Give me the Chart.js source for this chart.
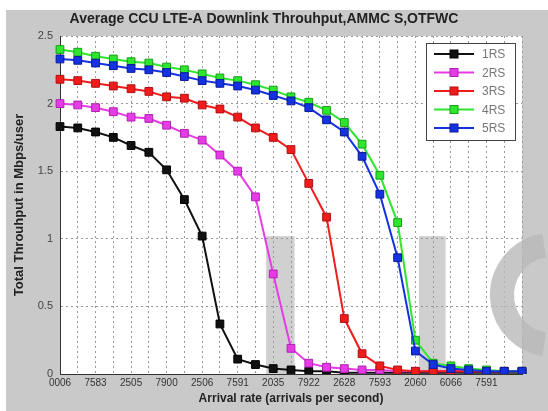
<!DOCTYPE html>
<html>
<head>
<meta charset="utf-8">
<script src="https://cdn.jsdelivr.net/npm/chart.js@4.4.1/dist/chart.umd.min.js"></script>
<style>
  html, body { margin: 0; padding: 0; background: #fff; }
  #wrap { position: relative; width: 548px; height: 411px; }
</style>
</head>
<body>
<div id="wrap"><canvas id="chart" width="548" height="411"></canvas></div>
<script>
// DATOS

// 27 puntos de carga (índice de tasa de llegada)
const arrivalPoints = ['1','2','3','4','5','6','7','8','9','10','11','12','13','14','15','16','17','18','19','20','21','22','23','24','25','26','27'];

// etiquetas del eje x (una cada dos puntos, tal como salen en la figura)
const xTickLabels = ['0006','7583','2505','7900','2506','7591','2035','7922','2628','7593','2060','6066','7591',''];

const yTickValues = [0, 0.5, 1, 1.5, 2, 2.5];
const yTickLabels = ['0', '0.5', '1', '1.5', '2', '2.5'];

const seriesNames = ['1RS', '2RS', '3RS', '4RS', '5RS'];

const rs1 = [1.83, 1.82, 1.79, 1.75, 1.69, 1.64, 1.51, 1.29, 1.02, 0.37, 0.11, 0.07, 0.04, 0.03, 0.02, 0.02, 0.01, 0.01, 0.01, 0.01, 0.01, 0.01, 0.01, 0.01, 0.01, 0.01, 0.01];
const rs2 = [2.00, 1.99, 1.97, 1.94, 1.90, 1.89, 1.84, 1.78, 1.73, 1.62, 1.50, 1.31, 0.74, 0.19, 0.08, 0.05, 0.04, 0.03, 0.03, 0.02, 0.02, 0.02, 0.02, 0.02, 0.02, 0.02, 0.02];
const rs3 = [2.18, 2.17, 2.15, 2.13, 2.11, 2.09, 2.05, 2.04, 1.99, 1.96, 1.90, 1.82, 1.75, 1.66, 1.41, 1.16, 0.41, 0.15, 0.06, 0.03, 0.02, 0.02, 0.02, 0.02, 0.02, 0.02, 0.02];
const rs4 = [2.40, 2.38, 2.35, 2.33, 2.31, 2.30, 2.27, 2.25, 2.22, 2.19, 2.17, 2.14, 2.10, 2.05, 2.01, 1.95, 1.86, 1.70, 1.47, 1.12, 0.25, 0.08, 0.06, 0.04, 0.03, 0.02, 0.02];
const rs5 = [2.33, 2.32, 2.30, 2.28, 2.26, 2.25, 2.23, 2.20, 2.17, 2.15, 2.13, 2.10, 2.06, 2.02, 1.97, 1.88, 1.79, 1.61, 1.33, 0.86, 0.17, 0.07, 0.04, 0.03, 0.02, 0.02, 0.02];

// bandas grises (marca de agua de la imagen), en unidades de datos
const shadeFrom = [11.6, 20.2];
const shadeTo = [13.2, 21.7];
const shadeTop = 1.02;

// ESTILO

const FONT = "'Liberation Sans', Arial, sans-serif";
const seriesValues = [rs1, rs2, rs3, rs4, rs5];
const lineColors = ['#111111', '#e63ce6', '#f01c1c', '#2ee62e', '#1432e0'];
const edgeColors = ['#000000', '#b020b0', '#b01010', '#18a018', '#0a1a9a'];

function buildDatasets() {
  return seriesNames.map((name, i) => ({
    label: name,
    data: seriesValues[i],
    borderColor: lineColors[i],
    backgroundColor: lineColors[i],
    pointBackgroundColor: lineColors[i],
    pointBorderColor: edgeColors[i],
    pointBorderWidth: 1,
    pointStyle: 'rect',
    pointRadius: 5.5,
    borderWidth: 2,
    tension: 0,
    order: 5 - i   // 5RS encima de todo
  }));
}

// PLUGINS

const figureBg = {
  id: 'figureBg',
  beforeDraw(chart) {
    const { ctx, chartArea: a, width, height } = chart;
    ctx.save();
    ctx.fillStyle = '#ffffff';
    ctx.fillRect(0, 0, width, height);
    ctx.fillStyle = '#c9c9c9';
    ctx.fillRect(6, 10, width - 6, height - 10);
    ctx.fillStyle = '#ffffff';
    ctx.fillRect(a.left, a.top, a.right - a.left, a.bottom - a.top);
    ctx.restore();
  }
};

const watermark = {
  id: 'watermark',
  beforeDatasetsDraw(chart) {
    const { ctx, scales: { x, y } } = chart;
    ctx.save();
    ctx.fillStyle = 'rgba(150,150,150,0.45)';
    shadeFrom.forEach((from, i) => {
      const x0 = x.getPixelForValue(from);
      const x1 = x.getPixelForValue(shadeTo[i]);
      const y0 = y.getPixelForValue(shadeTop);
      const y1 = y.getPixelForValue(0);
      ctx.fillRect(x0, y0, x1 - x0, y1 - y0);
    });
    // arco grande de la marca de agua a la derecha
    ctx.strokeStyle = 'rgba(185,185,185,0.8)';
    ctx.lineWidth = 24;
    ctx.beginPath();
    ctx.arc(552, 295, 50, -Math.PI * 0.55, Math.PI * 0.55, true);
    ctx.stroke();
    ctx.restore();
  }
};

const boxLegend = {
  id: 'boxLegend',
  afterDraw(chart) {
    const { ctx } = chart;
    const left = 426, top = 43, w = 89, h = 97;
    ctx.save();
    ctx.fillStyle = '#ffffff';
    ctx.fillRect(left, top, w, h);
    ctx.strokeStyle = '#444';
    ctx.lineWidth = 1;
    ctx.strokeRect(left + 0.5, top + 0.5, w, h);
    ctx.font = '12px ' + FONT;
    ctx.textBaseline = 'middle';
    chart.data.datasets.forEach((ds, i) => {
      const yy = top + 11 + i * 18.5;
      ctx.strokeStyle = ds.borderColor;
      ctx.lineWidth = 2;
      ctx.beginPath();
      ctx.moveTo(left + 8, yy);
      ctx.lineTo(left + 48, yy);
      ctx.stroke();
      ctx.fillStyle = ds.pointBackgroundColor;
      ctx.strokeStyle = ds.pointBorderColor;
      ctx.lineWidth = 1;
      ctx.fillRect(left + 24, yy - 4, 8, 8);
      ctx.strokeRect(left + 24, yy - 4, 8, 8);
      ctx.fillStyle = '#777';
      ctx.fillText(ds.label, left + 56, yy + 1);
    });
    ctx.restore();
  }
};

// GRÁFICO

const ctx = document.getElementById('chart').getContext('2d');
new Chart(ctx, {
  type: 'line',
  data: { labels: arrivalPoints, datasets: buildDatasets() },
  plugins: [figureBg, watermark, boxLegend],
  options: {
    responsive: false,
    animation: false,
    devicePixelRatio: 1,
    layout: { padding: { left: 6, right: 26, top: 0, bottom: 0 } },
    plugins: {
      legend: { display: false },
      tooltip: { enabled: false },
      title: {
        display: true,
        text: 'Average CCU LTE-A Downlink Throuhput,AMMC S,OTFWC',
        color: '#222',
        font: { family: FONT, size: 14, weight: 'bold' },
        padding: { top: 11, bottom: 8.2 }
      }
    },
    scales: {
      x: {
        type: 'category',
        offset: false,
        grid: { color: '#9a9a9a', lineWidth: 1, drawTicks: false },
        border: { color: '#333', width: 1, dash: [2, 3] },
        ticks: {
          autoSkip: false, maxRotation: 0, minRotation: 0, padding: 3,
          color: '#333', font: { family: FONT, size: 10 },
          callback: (v, i) => (i % 2 === 0 ? xTickLabels[i / 2] : '')
        },
        title: {
          display: true,
          text: 'Arrival rate (arrivals per second)',
          color: '#222',
          font: { family: FONT, size: 12, weight: 'bold' },
          padding: { top: 0, bottom: 5 }
        },
        afterFit: s => { s.height = 37; }
      },
      y: {
        min: 0, max: 2.5,
        afterBuildTicks: s => { s.ticks = yTickValues.map(v => ({ value: v })); },
        grid: { color: '#9a9a9a', lineWidth: 1, drawTicks: false },
        border: { color: '#333', width: 1, dash: [2, 3] },
        ticks: {
          padding: 7, color: '#444', font: { family: FONT, size: 11 },
          callback: v => yTickLabels[yTickValues.indexOf(v)]
        },
        title: {
          display: true,
          text: 'Total Throuhput in Mbps/user',
          color: '#222',
          font: { family: FONT, size: 13, weight: 'bold' },
          padding: { top: 6, bottom: 0 }
        },
        afterFit: s => { s.width = 54; }
      }
    }
  }
});
</script>
</body>
</html>
